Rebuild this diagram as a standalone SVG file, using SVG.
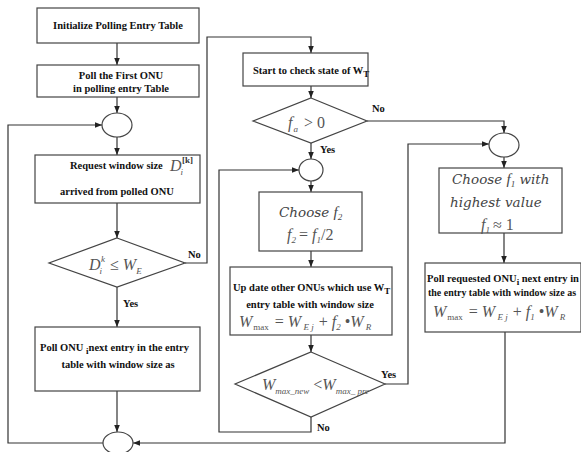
<svg xmlns="http://www.w3.org/2000/svg" width="581" height="452" viewBox="0 0 581 452">
<defs>
<marker id="ah" viewBox="0 0 8 8" refX="8" refY="4" markerWidth="7" markerHeight="7" markerUnits="userSpaceOnUse" orient="auto">
<path d="M0,0.8 L8,4 L0,7.2 z" fill="#222"/>
</marker>
<style>
.box{fill:#fff;stroke:#444;stroke-width:1.2}
.el{fill:#fff;stroke:#444;stroke-width:1.2}
.ar{fill:none;stroke:#333;stroke-width:1.2;marker-end:url(#ah)}
.b{font-family:"Liberation Serif","Times New Roman",serif;font-weight:bold;font-size:10.5px;fill:#111}
.m{font-family:"Liberation Serif","Times New Roman",serif;font-style:italic;font-size:16px;fill:#555}
.c{font-family:"DejaVu Serif",serif;font-style:italic;font-size:13.5px;fill:#444}
.s{font-size:9px}
</style>
</defs>
<rect width="581" height="452" fill="#fff"/>

<g id="connectors">
<path class="ar" d="M117,43 V65"/>
<path class="ar" d="M117,97 V113"/>
<path class="ar" d="M117,137 V155"/>
<path class="ar" d="M117,203 V238"/>
<path class="ar" d="M117,287 V327"/>
<path class="ar" d="M117,391 V432"/>
<path class="ar" d="M103,443 H8 V125 H102"/>
<path class="ar" d="M185,263 H207 V37 H311 V53"/>
<path class="ar" d="M311,86 V98"/>
<path class="ar" d="M311,143 V159"/>
<path class="ar" d="M367,121 H504 V133"/>
<path class="ar" d="M311,181 V192"/>
<path class="ar" d="M311,251 V267"/>
<path class="ar" d="M311,335 V352"/>
<path class="ar" d="M385,384 H408 V144 H489"/>
<path class="ar" d="M311,417 V432 H219 V170 H299"/>
<path class="ar" d="M504,157 V168"/>
<path class="ar" d="M504,233 V263"/>
<path class="ar" d="M505,332 V443 H133"/>
<text class="b" x="188" y="258">No</text>
<text class="b" x="123" y="307">Yes</text>
<text class="b" x="372" y="112">No</text>
<text class="b" x="320" y="153">Yes</text>
<text class="b" x="381" y="378">Yes</text>
<text class="b" x="317" y="431">No</text>
</g>

<g id="init">
<rect class="box" x="37" y="8" width="162" height="35"/>
<text class="b" x="118" y="29" text-anchor="middle">Initialize Polling Entry Table</text>
</g>

<g id="pollFirst">
<rect class="box" x="37" y="65" width="162" height="32"/>
<text class="b" x="121" y="79" text-anchor="middle">Poll the First ONU</text>
<text class="b" x="121" y="92" text-anchor="middle">in polling entry Table</text>
</g>

<g id="join1">
<ellipse class="el" cx="117" cy="125" rx="15" ry="12"/>
</g>

<g id="request">
<rect class="box" x="35" y="155" width="165" height="48"/>
<text class="b" x="70" y="169">Request  window size</text>
<text class="m" x="170" y="171">D<tspan class="s" dx="-1" dy="4">i</tspan><tspan class="s" font-style="normal" font-weight="bold" fill="#333" dx="-1" dy="-12">[k]</tspan></text>
<text class="b" x="60" y="195">arrived from  polled ONU</text>
</g>

<g id="cond1">
<polygon class="box" points="117,238 185,263 117,287 49,263"/>
<text class="m" x="89" y="270">D<tspan class="s" dx="-1" dy="4">i</tspan><tspan class="s" dx="-1" dy="-12">k</tspan><tspan dx="5" dy="8" font-style="normal">≤</tspan><tspan dx="4">W</tspan><tspan class="s" dy="4">E</tspan></text>
</g>

<g id="pollNext">
<rect class="box" x="35" y="327" width="165" height="64"/>
<text class="b" x="40" y="351">Poll ONU <tspan class="s" dy="3">i</tspan><tspan dy="-3">next entry in the entry</tspan></text>
<text class="b" x="118" y="368" text-anchor="middle">table with window size as</text>
</g>

<g id="join2">
<ellipse class="el" cx="118" cy="443" rx="15" ry="11"/>
</g>

<g id="startCheck">
<rect class="box" x="243" y="53" width="125" height="33"/>
<text class="b" x="253" y="74">Start to check  state of W<tspan class="s" dy="3">T</tspan></text>
</g>

<g id="cond2">
<polygon class="box" points="311,98 367,121 311,143 253,121"/>
<text class="m" x="288" y="128">f<tspan class="s" dx="1" dy="4">a</tspan><tspan font-style="normal" dx="6" dy="-4">&gt; 0</tspan></text>
</g>

<g id="join3">
<ellipse class="el" cx="311" cy="170" rx="12" ry="11"/>
</g>

<g id="chooseF2">
<rect class="box" x="259" y="192" width="103" height="59"/>
<text class="c" x="279" y="217">Choose <tspan font-family="Liberation Serif,serif" font-size="15px">f</tspan><tspan class="s" font-family="Liberation Serif,serif" dy="3">2</tspan></text>
<text class="m" x="287" y="240">f<tspan class="s" dy="3">2</tspan><tspan font-style="normal" dx="3" dy="-3">= </tspan>f<tspan class="s" dy="3">1</tspan><tspan font-style="normal" dy="-3">/2</tspan></text>
</g>

<g id="update">
<rect class="box" x="230" y="267" width="162" height="68"/>
<text class="b" x="233" y="291">Up date other ONUs which use W<tspan class="s" dy="3">T</tspan></text>
<text class="b" x="310" y="308" text-anchor="middle">entry table with window size</text>
<text class="m" x="239" y="327" font-size="17px">W<tspan class="s" font-style="normal" dx="1" dy="3">max</tspan><tspan font-style="normal" dx="6" dy="-3">=  </tspan>W<tspan class="s" dy="3"> E j</tspan><tspan font-style="normal" dx="5" dy="-3">+  </tspan>f<tspan class="s" dy="3">2</tspan><tspan font-style="normal" dx="4" dy="-3">•</tspan>W<tspan class="s" dy="3"> R</tspan></text>
</g>

<g id="cond3">
<polygon class="box" points="311,352 385,384 311,417 235,384"/>
<text class="m" x="262" y="390">W<tspan class="s" dy="4">max_new</tspan><tspan font-style="normal" dx="4" dy="-4">&lt;</tspan>W<tspan class="s" dy="4">max_ pre</tspan></text>
</g>

<g id="join4">
<ellipse class="el" cx="504" cy="145" rx="15" ry="12"/>
</g>

<g id="chooseF1">
<rect class="box" x="439" y="168" width="123" height="65"/>
<text class="c" x="452" y="184">Choose <tspan font-family="Liberation Serif,serif" font-size="15px">f</tspan><tspan class="s" font-family="Liberation Serif,serif" dy="3">1</tspan><tspan dy="-3"> with</tspan></text>
<text class="c" x="450" y="207">highest value</text>
<text class="m" x="481" y="230">f<tspan class="s" dy="3">1</tspan><tspan font-style="normal" dx="3" dy="-3">≈ 1</tspan></text>
</g>

<g id="pollRequested">
<rect class="box" x="425" y="263" width="156" height="69"/>
<text class="b" x="427" y="282" font-size="10px">Poll requested ONU<tspan class="s" dy="3">i</tspan><tspan dy="-3"> next entry in</tspan></text>
<text class="b" x="428" y="296" font-size="9px" textLength="148" lengthAdjust="spacingAndGlyphs">the entry table with window size as</text>
<text class="m" x="433" y="317" font-size="17px">W<tspan class="s" font-style="normal" dx="1" dy="3">max</tspan><tspan font-style="normal" dx="6" dy="-3">=  </tspan>W<tspan class="s" dy="3"> E j</tspan><tspan font-style="normal" dx="5" dy="-3">+  </tspan>f<tspan class="s" dy="3">1</tspan><tspan font-style="normal" dx="4" dy="-3">•</tspan>W<tspan class="s" dy="3"> R</tspan></text>
</g>
</svg>
